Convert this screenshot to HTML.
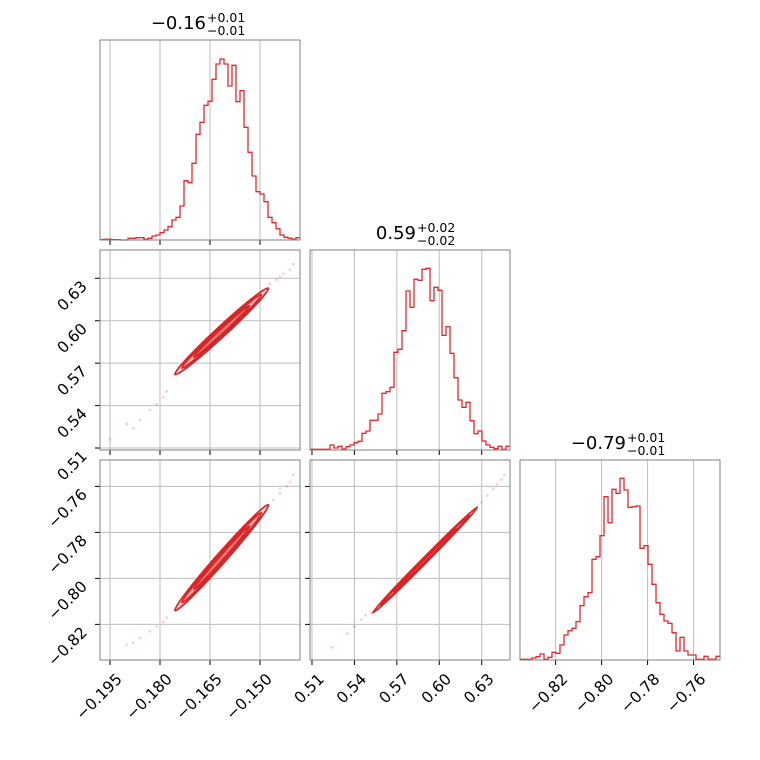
<!DOCTYPE html>
<html><head><meta charset="utf-8"><style>
body{margin:0;background:#fff}
svg{display:block;font-family:"DejaVu Sans","Liberation Sans",sans-serif}
</style></head><body>
<svg id="c" width="760" height="760"></svg>
<script>
// ---- data ----
const h1Counts=[1,2,2,1,1,0,0,5,5,7,7,2,5,12,15,22,30,40,60,68,102,178,172,230,317,353,404,416,482,528,543,528,462,524,415,448,338,263,192,145,138,115,68,52,34,15,8,5,2,7];
const h2Counts=[2,2,2,2,2,15,6,11,3,10,15,22,26,50,57,89,89,108,170,175,188,293,302,358,477,428,512,509,542,545,448,488,479,344,370,290,217,150,128,143,88,49,57,27,15,8,4,11,2,11];
const h3Counts=[2,2,2,6,10,18,2,8,23,20,45,75,88,95,115,163,190,202,302,310,373,490,412,512,500,545,510,458,460,462,335,343,287,227,172,137,117,110,82,27,68,27,15,15,2,2,11,2,2,11];
const p1Range=[-0.198,-0.138], p2Range=[0.5086,0.650], p3Range=[-0.8355,-0.7485];
const p1Ticks=[-0.195,-0.180,-0.165,-0.150], p1Labels=["\u22120.195","\u22120.180","\u22120.165","\u22120.150"];
const p2Ticks=[0.51,0.54,0.57,0.60,0.63], p2Labels=["0.51","0.54","0.57","0.60","0.63"];
const p3Ticks=[-0.82,-0.80,-0.78,-0.76], p3Labels=["\u22120.82","\u22120.80","\u22120.78","\u22120.76"];
// contour segments: [x0,y0,x1,y1]
const c10=[-0.1755,0.562,-0.1475,0.623];
const c20=[-0.1755,-0.814,-0.1475,-0.768];
const c21=[0.553,-0.815,0.627,-0.769];
const s10x=[-0.195,-0.190,-0.186,-0.183,-0.181,-0.179,-0.178,-0.150,-0.147,-0.145,-0.143,-0.141,-0.140,-0.144,-0.188];
const s10y=[0.516,0.527,0.530,0.537,0.541,0.546,0.550,0.620,0.626,0.629,0.633,0.636,0.640,0.631,0.524];
const s20x=[-0.190,-0.186,-0.183,-0.181,-0.179,-0.178,-0.149,-0.146,-0.144,-0.142,-0.141,-0.140,-0.144,-0.188];
const s20y=[-0.829,-0.826,-0.823,-0.821,-0.819,-0.817,-0.771,-0.766,-0.763,-0.760,-0.758,-0.755,-0.761,-0.828];
const s21x=[0.524,0.535,0.540,0.545,0.548,0.552,0.630,0.634,0.638,0.641,0.644,0.646];
const s21y=[-0.830,-0.824,-0.821,-0.818,-0.816,-0.815,-0.767,-0.764,-0.761,-0.759,-0.757,-0.755];
// ---- layout ----
const NS="http://www.w3.org/2000/svg", svg=document.getElementById('c');
function el(t,a,p){const e=document.createElementNS(NS,t);for(const k in a)e.setAttribute(k,a[k]);(p||svg).appendChild(e);return e;}
const cols=[100,310,520], rows=[40,250,460], S=200;
const ranges=[p1Range,p2Range,p3Range], ticks=[p1Ticks,p2Ticks,p3Ticks], labels=[p1Labels,p2Labels,p3Labels];
function sx(i,v){const r=ranges[i];return cols[i]+(v-r[0])/(r[1]-r[0])*S;}
function sy(row,i,v){const r=ranges[i];return rows[row]+S-(v-r[0])/(r[1]-r[0])*S;}
function panel(name,ci,ri,yi){
  const g=el('g',{});
  
  
  const x0=cols[ci],y0=rows[ri];
  ticks[ci].forEach(t=>{const x=sx(ci,t);el('line',{x1:x,x2:x,y1:y0,y2:y0+S,stroke:'#bdbdbd','stroke-width':1},g);
    el('line',{x1:x,x2:x,y1:y0+S,y2:y0+S+5,stroke:'#000','stroke-width':1},g);});
  if(yi!=null)ticks[yi].forEach(t=>{const y=sy(ri,yi,t);el('line',{x1:x0,x2:x0+S,y1:y,y2:y,stroke:'#bdbdbd','stroke-width':1},g);
    el('line',{x1:x0-5,x2:x0,y1:y,y2:y,stroke:'#000','stroke-width':1},g);});
  return g;
}
function frame(g,ci,ri){el('rect',{x:cols[ci],y:rows[ri],width:S,height:S,fill:'none',stroke:'#808080','stroke-width':1},g);}
function hist(i,counts,name){
  const g=panel(name,i,i,null);
  const mx=600, n=counts.length, w=S/n; let d='';
  counts.forEach((c,k)=>{const x=cols[i]+k*w,y=rows[i]+S-c/mx*S;d+=(k?'L':'M')+x+','+y+'L'+(x+w)+','+y;});
  const p=el('path',{d:d,fill:'none',stroke:'#e8262b','stroke-width':1.3},g);
  
  
  frame(g,i,i);
}
function scat(ci,ri,yi,seg,xs,ys,name){
  const g=panel(name,ci,ri,yi);
  xs.forEach((v,k)=>{const c=el('circle',{cx:sx(ci,v),cy:sy(ri,yi,ys[k]),r:1.4,fill:'#e8262b','fill-opacity':0.22},g);
    });
  const X0=sx(ci,seg[0]),Y0=sy(ri,yi,seg[1]),X1=sx(ci,seg[2]),Y1=sy(ri,yi,seg[3]);
  const cx=(X0+X1)/2,cy=(Y0+Y1)/2,L=Math.hypot(X1-X0,Y1-Y0)/2,ang=Math.atan2(Y1-Y0,X1-X0)*180/Math.PI;
  const thin=ci==1?[2.6,1.8,1.1]:[5,3.6,2.2];
  [[1,thin[0],'#f6c9ca'],[0.85,thin[1],'#f0a0a3'],[0.6,thin[2],'#e06b70']].forEach((e,k)=>{
    const E=el('ellipse',{cx:cx,cy:cy,rx:L*e[0],ry:e[1],fill:e[2],'fill-opacity':0.8,stroke:'#d62728','stroke-width':1.8,transform:`rotate(${ang} ${cx} ${cy})`},g);
    });
  frame(g,ci,ri);
}
hist(0,h1Counts,'hist-param1');
hist(1,h2Counts,'hist-param2');
hist(2,h3Counts,'hist-param3');
scat(0,1,1,c10,s10x,s10y,'scatter-param1-param2');
scat(0,2,2,c20,s20x,s20y,'scatter-param1-param3');
scat(1,2,2,c21,s21x,s21y,'scatter-param2-param3');
// tick labels
function rtext(x,y,s,name){const t=el('text',{x:x,y:y,'text-anchor':'end','font-size':15.5,fill:'#000',transform:`rotate(-45 ${x} ${y})`});t.textContent=s;
  }
for(let i=0;i<3;i++)ticks[i].forEach((t,k)=>rtext(sx(i,t)+13,680,labels[i][k],'x-tick-label'));
[1,2].forEach(r=>ticks[r].forEach((t,k)=>rtext(88,sy(r,r,t)+9,labels[r][k],'y-tick-label')));
// titles
const titles=[["\u22120.16","+0.01","\u22120.01"],["0.59","+0.02","\u22120.02"],["\u22120.79","+0.01","\u22120.01"]];
titles.forEach((tt,i)=>{const cx=cols[i]+100,y=rows[i]-11;
  const g=el('g',{});
  const m=el('text',{x:cx+6,y:y,'text-anchor':'end','font-size':18},g);m.textContent=tt[0];
  const a=el('text',{x:cx+7,y:y-7,'font-size':12.5},g);a.textContent=tt[1];
  const b=el('text',{x:cx+7,y:y+6,'font-size':12.5},g);b.textContent=tt[2];});
</script>
</body></html>
